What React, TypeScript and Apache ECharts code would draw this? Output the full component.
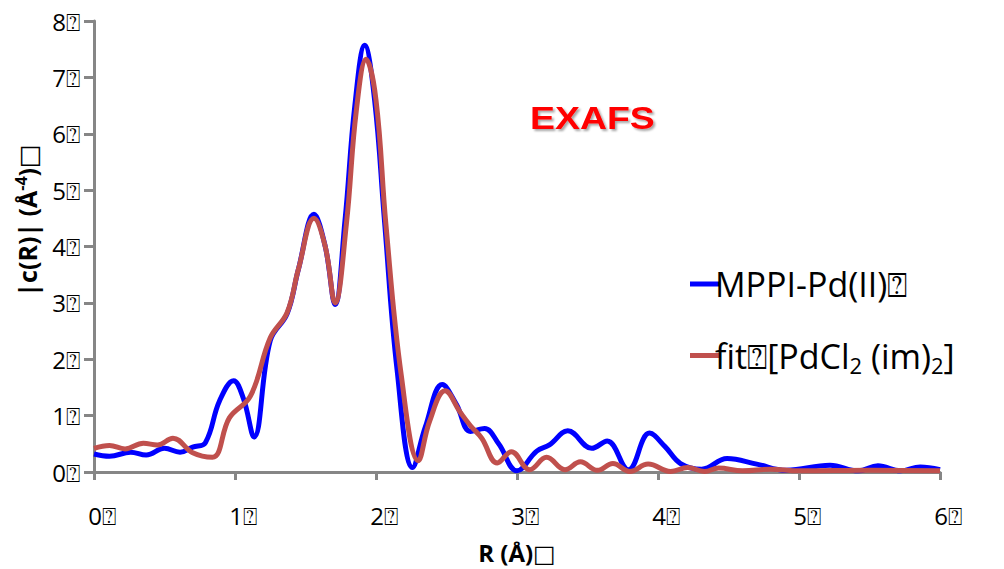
import React, { useEffect, useRef } from "react";
import * as echarts from "echarts";

const BOX = "\u2370";
const xTicks = [0, 1, 2, 3, 4, 5, 6];
const yTicks = [0, 1, 2, 3, 4, 5, 6, 7, 8];
const seriesNames = ["MPPI-Pd(II)" + BOX, "fit" + BOX + "[PdCl2 (im)2]"];

const measured: [number, number][] = [
  [0, 0.32], [0.11, 0.28], [0.26, 0.35], [0.37, 0.3], [0.5, 0.42], [0.61, 0.35],
  [0.7, 0.44], [0.79, 0.52], [0.89, 1.26], [0.99, 1.62], [1.06, 1.3], [1.135, 0.62],
  [1.25, 2.33], [1.37, 2.81], [1.45, 3.6], [1.56, 4.57], [1.64, 4.0], [1.71, 2.97],
  [1.78, 4.46], [1.85, 6.5], [1.92, 7.57], [1.99, 6.6], [2.06, 4.46], [2.15, 1.8],
  [2.26, 0.08], [2.35, 0.8], [2.47, 1.55], [2.57, 1.2], [2.67, 0.72], [2.77, 0.77],
  [2.87, 0.5], [3.0, 0.02], [3.14, 0.37], [3.23, 0.48], [3.36, 0.73], [3.53, 0.42],
  [3.64, 0.55], [3.79, 0.04], [3.94, 0.69], [4.05, 0.45], [4.16, 0.15], [4.31, 0.05],
  [4.49, 0.24], [4.7, 0.14], [4.91, 0.03], [5.22, 0.12], [5.42, 0.02], [5.56, 0.11],
  [5.72, 0.02], [5.86, 0.09], [6.0, 0.04],
];

const fit: [number, number][] = [
  [0, 0.42], [0.11, 0.47], [0.22, 0.41], [0.35, 0.51], [0.45, 0.48], [0.56, 0.6],
  [0.7, 0.34], [0.84, 0.26], [0.96, 0.96], [1.11, 1.35], [1.25, 2.38], [1.37, 2.83],
  [1.45, 3.6], [1.56, 4.5], [1.64, 4.0], [1.71, 3.0], [1.79, 4.4], [1.86, 6.4],
  [1.93, 7.32], [2.0, 6.6], [2.07, 4.4], [2.18, 1.7], [2.3, 0.2], [2.38, 0.9],
  [2.49, 1.44], [2.6, 1.05], [2.67, 0.82], [2.75, 0.6], [2.86, 0.16], [2.96, 0.36],
  [3.09, 0.04], [3.21, 0.26], [3.34, 0.04], [3.45, 0.18], [3.57, 0.03], [3.68, 0.15],
  [3.8, 0.01], [3.93, 0.14], [4.09, 0.01], [4.21, 0.08], [4.33, 0.01], [4.43, 0.07],
  [4.6, 0.02], [4.8, 0.05], [5.0, 0.02], [5.5, 0.03], [6.0, 0.02],
];

const FONT = "'Open Sans', 'DejaVu Sans', sans-serif";

export default function App() {
  const ref = useRef<HTMLDivElement>(null);
  useEffect(() => {
    if (!ref.current) return;
    const chart = echarts.init(ref.current, null, { renderer: "svg" });
    const axisGray = "#868686";
    chart.setOption({
      animation: false,
      textStyle: { fontFamily: FONT },
      grid: { left: 94, right: 64, top: 21, bottom: 89, containLabel: false },
      xAxis: {
        type: "value",
        min: xTicks[0],
        max: xTicks[xTicks.length - 1],
        interval: 1,
        name: "R (\u00C5)\u25A1",
        nameLocation: "middle",
        nameGap: 68,
        nameTextStyle: { fontSize: 24, fontWeight: "bold", color: "#000", fontFamily: FONT },
        axisLine: { lineStyle: { color: axisGray, width: 3 } },
        axisTick: { show: true, length: 8, lineStyle: { color: axisGray, width: 3 } },
        splitLine: { show: false },
        axisLabel: {
          formatter: (v: number) => v + BOX,
          fontSize: 24,
          color: "#000",
          margin: 31,
          padding: [0, 0, 0, 16],
          fontFamily: FONT,
        },
      },
      yAxis: {
        type: "value",
        min: yTicks[0],
        max: yTicks[yTicks.length - 1],
        interval: 1,
        name: "|c(R)| (\u00C5{sup|-4})\u25A1",
        nameLocation: "middle",
        nameGap: 53,
        nameRotate: 90,
        nameTextStyle: {
          fontSize: 25,
          fontWeight: "bold",
          color: "#000",
          fontFamily: FONT,
          padding: [0, 0, 0, 52],
          rich: { sup: { fontSize: 16, fontWeight: "bold", padding: [0, 0, 12, 0], fontFamily: FONT } },
        },
        axisLine: { show: true, lineStyle: { color: axisGray, width: 3 } },
        axisTick: { show: true, length: 10, lineStyle: { color: axisGray, width: 3 } },
        splitLine: { show: false },
        axisLabel: {
          formatter: (v: number) => v + BOX,
          fontSize: 24,
          color: "#000",
          margin: 14,
          fontFamily: FONT,
        },
      },
      legend: {
        orient: "vertical",
        left: 685,
        top: 262,
        icon: "rect",
        itemWidth: 29,
        itemHeight: 5,
        itemGap: 34,
        data: seriesNames,
        formatter: (name: string) =>
          name === seriesNames[1]
            ? "{a|fit" + BOX + "[PdCl}{s|2}{a| (im)}{s|2}{a|]}"
            : "{a|" + name + "}",
        textStyle: {
          color: "#000",
          fontFamily: FONT,
          padding: [0, 0, 0, -9],
          rich: {
            a: { fontSize: 34, color: "#000", fontFamily: FONT, lineHeight: 42 },
            s: { fontSize: 22, color: "#000", fontFamily: FONT, padding: [19, 0, 0, 0], lineHeight: 42 },
          },
        },
      },
      graphic: [
        {
          type: "text",
          left: 530,
          top: 102,
          scaleX: 1.17,
          style: {
            text: "EXAFS",
            font: "bold 32px 'Liberation Sans', Arial, sans-serif",
            fill: "#FF0000",
            textShadowColor: "rgba(0,0,0,0.35)",
            textShadowBlur: 2,
            textShadowOffsetX: 2,
            textShadowOffsetY: 2,
          },
        },
      ],
      series: [
        {
          name: seriesNames[0],
          type: "line",
          data: measured,
          smooth: 0.4,
          symbol: "none",
          lineStyle: { color: "#0000FF", width: 5 },
          itemStyle: { color: "#0000FF" },
        },
        {
          name: seriesNames[1],
          type: "line",
          data: fit,
          smooth: 0.4,
          symbol: "none",
          lineStyle: { color: "#C0504D", width: 5 },
          itemStyle: { color: "#C0504D" },
        },
      ],
    });
    return () => chart.dispose();
  }, []);
  return (
    <div
      ref={ref}
      style={{ position: "fixed", left: 0, top: 0, width: 1004, height: 569, background: "#fff" }}
    />
  );
}
